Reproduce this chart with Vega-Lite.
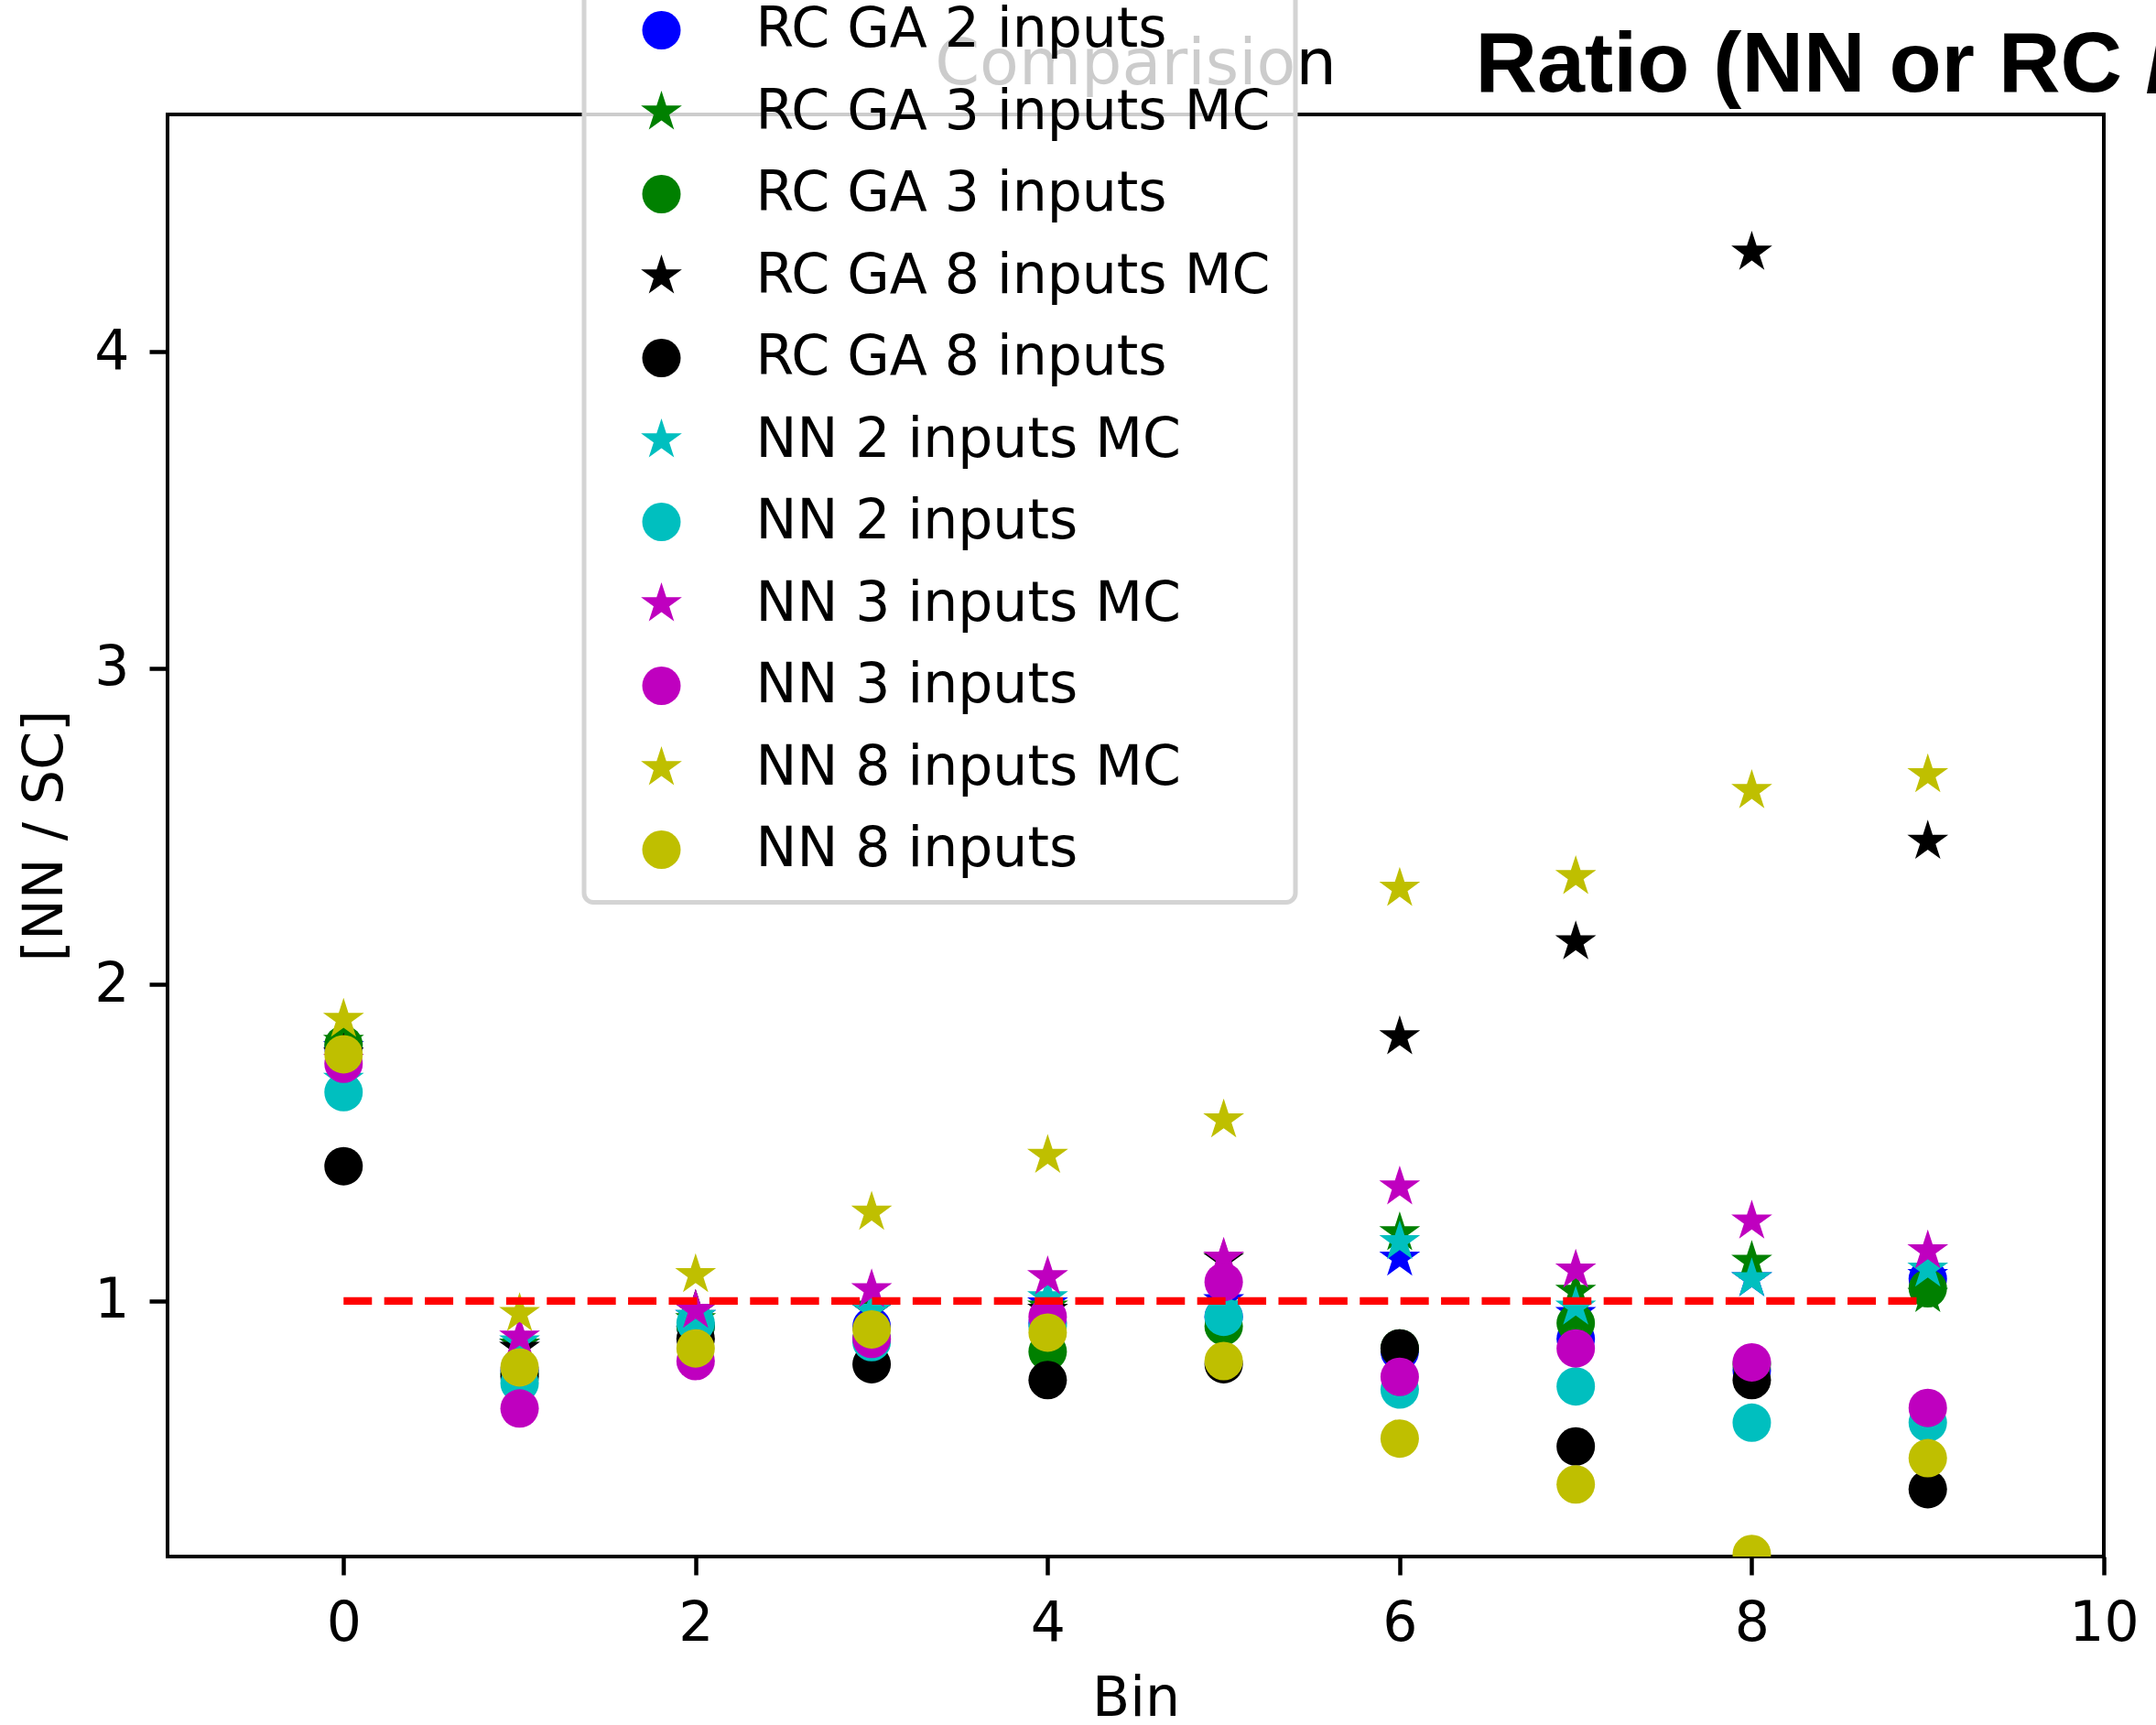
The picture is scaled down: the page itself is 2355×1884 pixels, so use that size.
{
  "$schema": "https://vega.github.io/schema/vega-lite/v6.json",
  "width": 2115,
  "height": 1575,
  "autosize": {"type": "none"},
  "padding": {"left": 183, "top": 125, "right": 57, "bottom": 184},
  "background": "white",
  "title": {"text": "Comparision", "font": "DejaVu Sans", "fontSize": 70, "fontWeight": "normal", "color": "black", "anchor": "middle", "frame": "group", "baseline": "alphabetic", "offset": -278, "zindex": 0},
  "config": {
    "view": {"stroke": "black", "strokeWidth": 4},
    "axis": {"grid": false, "domain": false, "tickColor": "black", "tickWidth": 4.5, "tickSize": 20, "labelFont": "DejaVu Sans", "labelFontSize": 60, "labelColor": "black", "titleFont": "DejaVu Sans", "titleFontSize": 60, "titleFontWeight": "normal", "titleColor": "black", "labelFlush": false, "labelOverlap": false},
    "legend": {"strokeColor": "#d4d4d4", "strokeWidth": 5, "fillColor": "rgba(255,255,255,0.8)", "cornerRadius": 10, "padding": 27, "labelFont": "DejaVu Sans", "labelFontSize": 60, "labelColor": "black", "labelLimit": 0, "symbolSize": 1764, "symbolStrokeWidth": 0, "symbolOpacity": 1, "rowPadding": 29.5, "labelOffset": 73, "symbolOffset": 27.5}
  },
  "datasets": {
    "points": [
      {"bin": 0, "ratio": 1.80, "series": "RC GA 2 inputs MC"},
      {"bin": 1, "ratio": 0.86, "series": "RC GA 2 inputs MC"},
      {"bin": 2, "ratio": 0.95, "series": "RC GA 2 inputs MC"},
      {"bin": 3, "ratio": 0.97, "series": "RC GA 2 inputs MC"},
      {"bin": 4, "ratio": 0.99, "series": "RC GA 2 inputs MC"},
      {"bin": 5, "ratio": 1.00, "series": "RC GA 2 inputs MC"},
      {"bin": 6, "ratio": 1.135, "series": "RC GA 2 inputs MC"},
      {"bin": 7, "ratio": 0.96, "series": "RC GA 2 inputs MC"},
      {"bin": 8, "ratio": 1.07, "series": "RC GA 2 inputs MC"},
      {"bin": 9, "ratio": 1.08, "series": "RC GA 2 inputs MC"},
      {"bin": 0, "ratio": 1.80, "series": "RC GA 2 inputs"},
      {"bin": 1, "ratio": 0.78, "series": "RC GA 2 inputs"},
      {"bin": 2, "ratio": 0.92, "series": "RC GA 2 inputs"},
      {"bin": 3, "ratio": 0.92, "series": "RC GA 2 inputs"},
      {"bin": 4, "ratio": 0.93, "series": "RC GA 2 inputs"},
      {"bin": 5, "ratio": 0.95, "series": "RC GA 2 inputs"},
      {"bin": 6, "ratio": 0.84, "series": "RC GA 2 inputs"},
      {"bin": 7, "ratio": 0.88, "series": "RC GA 2 inputs"},
      {"bin": 8, "ratio": 0.78, "series": "RC GA 2 inputs"},
      {"bin": 9, "ratio": 1.07, "series": "RC GA 2 inputs"},
      {"bin": 0, "ratio": 1.82, "series": "RC GA 3 inputs MC"},
      {"bin": 1, "ratio": 0.86, "series": "RC GA 3 inputs MC"},
      {"bin": 2, "ratio": 0.94, "series": "RC GA 3 inputs MC"},
      {"bin": 3, "ratio": 0.98, "series": "RC GA 3 inputs MC"},
      {"bin": 4, "ratio": 0.98, "series": "RC GA 3 inputs MC"},
      {"bin": 5, "ratio": 0.98, "series": "RC GA 3 inputs MC"},
      {"bin": 6, "ratio": 1.215, "series": "RC GA 3 inputs MC"},
      {"bin": 7, "ratio": 1.03, "series": "RC GA 3 inputs MC"},
      {"bin": 8, "ratio": 1.125, "series": "RC GA 3 inputs MC"},
      {"bin": 9, "ratio": 1.02, "series": "RC GA 3 inputs MC"},
      {"bin": 0, "ratio": 1.81, "series": "RC GA 3 inputs"},
      {"bin": 1, "ratio": 0.77, "series": "RC GA 3 inputs"},
      {"bin": 2, "ratio": 0.92, "series": "RC GA 3 inputs"},
      {"bin": 3, "ratio": 0.88, "series": "RC GA 3 inputs"},
      {"bin": 4, "ratio": 0.84, "series": "RC GA 3 inputs"},
      {"bin": 5, "ratio": 0.92, "series": "RC GA 3 inputs"},
      {"bin": 6, "ratio": 0.85, "series": "RC GA 3 inputs"},
      {"bin": 7, "ratio": 0.93, "series": "RC GA 3 inputs"},
      {"bin": 8, "ratio": 0.80, "series": "RC GA 3 inputs"},
      {"bin": 9, "ratio": 1.04, "series": "RC GA 3 inputs"},
      {"bin": 0, "ratio": 1.78, "series": "RC GA 8 inputs MC"},
      {"bin": 1, "ratio": 0.85, "series": "RC GA 8 inputs MC"},
      {"bin": 2, "ratio": 0.97, "series": "RC GA 8 inputs MC"},
      {"bin": 3, "ratio": 0.97, "series": "RC GA 8 inputs MC"},
      {"bin": 4, "ratio": 0.97, "series": "RC GA 8 inputs MC"},
      {"bin": 5, "ratio": 1.13, "series": "RC GA 8 inputs MC"},
      {"bin": 6, "ratio": 1.835, "series": "RC GA 8 inputs MC"},
      {"bin": 7, "ratio": 2.135, "series": "RC GA 8 inputs MC"},
      {"bin": 8, "ratio": 4.315, "series": "RC GA 8 inputs MC"},
      {"bin": 9, "ratio": 2.453, "series": "RC GA 8 inputs MC"},
      {"bin": 0, "ratio": 1.426, "series": "RC GA 8 inputs"},
      {"bin": 1, "ratio": 0.76, "series": "RC GA 8 inputs"},
      {"bin": 2, "ratio": 0.88, "series": "RC GA 8 inputs"},
      {"bin": 3, "ratio": 0.80, "series": "RC GA 8 inputs"},
      {"bin": 4, "ratio": 0.75, "series": "RC GA 8 inputs"},
      {"bin": 5, "ratio": 0.80, "series": "RC GA 8 inputs"},
      {"bin": 6, "ratio": 0.85, "series": "RC GA 8 inputs"},
      {"bin": 7, "ratio": 0.54, "series": "RC GA 8 inputs"},
      {"bin": 8, "ratio": 0.75, "series": "RC GA 8 inputs"},
      {"bin": 9, "ratio": 0.405, "series": "RC GA 8 inputs"},
      {"bin": 0, "ratio": 1.70, "series": "NN 2 inputs MC"},
      {"bin": 1, "ratio": 0.87, "series": "NN 2 inputs MC"},
      {"bin": 2, "ratio": 0.95, "series": "NN 2 inputs MC"},
      {"bin": 3, "ratio": 0.97, "series": "NN 2 inputs MC"},
      {"bin": 4, "ratio": 1.01, "series": "NN 2 inputs MC"},
      {"bin": 5, "ratio": 0.98, "series": "NN 2 inputs MC"},
      {"bin": 6, "ratio": 1.187, "series": "NN 2 inputs MC"},
      {"bin": 7, "ratio": 0.98, "series": "NN 2 inputs MC"},
      {"bin": 8, "ratio": 1.07, "series": "NN 2 inputs MC"},
      {"bin": 9, "ratio": 1.10, "series": "NN 2 inputs MC"},
      {"bin": 0, "ratio": 1.66, "series": "NN 2 inputs"},
      {"bin": 1, "ratio": 0.74, "series": "NN 2 inputs"},
      {"bin": 2, "ratio": 0.93, "series": "NN 2 inputs"},
      {"bin": 3, "ratio": 0.87, "series": "NN 2 inputs"},
      {"bin": 4, "ratio": 0.92, "series": "NN 2 inputs"},
      {"bin": 5, "ratio": 0.95, "series": "NN 2 inputs"},
      {"bin": 6, "ratio": 0.72, "series": "NN 2 inputs"},
      {"bin": 7, "ratio": 0.73, "series": "NN 2 inputs"},
      {"bin": 8, "ratio": 0.615, "series": "NN 2 inputs"},
      {"bin": 9, "ratio": 0.615, "series": "NN 2 inputs"},
      {"bin": 0, "ratio": 1.76, "series": "NN 3 inputs MC"},
      {"bin": 1, "ratio": 0.885, "series": "NN 3 inputs MC"},
      {"bin": 2, "ratio": 0.97, "series": "NN 3 inputs MC"},
      {"bin": 3, "ratio": 1.035, "series": "NN 3 inputs MC"},
      {"bin": 4, "ratio": 1.076, "series": "NN 3 inputs MC"},
      {"bin": 5, "ratio": 1.135, "series": "NN 3 inputs MC"},
      {"bin": 6, "ratio": 1.36, "series": "NN 3 inputs MC"},
      {"bin": 7, "ratio": 1.097, "series": "NN 3 inputs MC"},
      {"bin": 8, "ratio": 1.252, "series": "NN 3 inputs MC"},
      {"bin": 9, "ratio": 1.158, "series": "NN 3 inputs MC"},
      {"bin": 0, "ratio": 1.75, "series": "NN 3 inputs"},
      {"bin": 1, "ratio": 0.66, "series": "NN 3 inputs"},
      {"bin": 2, "ratio": 0.81, "series": "NN 3 inputs"},
      {"bin": 3, "ratio": 0.88, "series": "NN 3 inputs"},
      {"bin": 4, "ratio": 0.95, "series": "NN 3 inputs"},
      {"bin": 5, "ratio": 1.06, "series": "NN 3 inputs"},
      {"bin": 6, "ratio": 0.76, "series": "NN 3 inputs"},
      {"bin": 7, "ratio": 0.85, "series": "NN 3 inputs"},
      {"bin": 8, "ratio": 0.806, "series": "NN 3 inputs"},
      {"bin": 9, "ratio": 0.662, "series": "NN 3 inputs"},
      {"bin": 0, "ratio": 1.89, "series": "NN 8 inputs MC"},
      {"bin": 1, "ratio": 0.96, "series": "NN 8 inputs MC"},
      {"bin": 2, "ratio": 1.083, "series": "NN 8 inputs MC"},
      {"bin": 3, "ratio": 1.28, "series": "NN 8 inputs MC"},
      {"bin": 4, "ratio": 1.46, "series": "NN 8 inputs MC"},
      {"bin": 5, "ratio": 1.572, "series": "NN 8 inputs MC"},
      {"bin": 6, "ratio": 2.304, "series": "NN 8 inputs MC"},
      {"bin": 7, "ratio": 2.341, "series": "NN 8 inputs MC"},
      {"bin": 8, "ratio": 2.613, "series": "NN 8 inputs MC"},
      {"bin": 9, "ratio": 2.663, "series": "NN 8 inputs MC"},
      {"bin": 0, "ratio": 1.78, "series": "NN 8 inputs"},
      {"bin": 1, "ratio": 0.79, "series": "NN 8 inputs"},
      {"bin": 2, "ratio": 0.85, "series": "NN 8 inputs"},
      {"bin": 3, "ratio": 0.91, "series": "NN 8 inputs"},
      {"bin": 4, "ratio": 0.90, "series": "NN 8 inputs"},
      {"bin": 5, "ratio": 0.81, "series": "NN 8 inputs"},
      {"bin": 6, "ratio": 0.565, "series": "NN 8 inputs"},
      {"bin": 7, "ratio": 0.42, "series": "NN 8 inputs"},
      {"bin": 8, "ratio": 0.20, "series": "NN 8 inputs"},
      {"bin": 9, "ratio": 0.503, "series": "NN 8 inputs"}
    ],
    "refline": [
      {"bin": 0, "ratio": 1},
      {"bin": 9, "ratio": 1}
    ],
    "overlay": [
      {"label": "Ratio (NN or RC /"}
    ]
  },
  "layer": [
    {
      "data": {"name": "points"},
      "mark": {"type": "point", "filled": true, "opacity": 1, "size": 1764, "strokeWidth": 0, "clip": true},
      "encoding": {
        "x": {"field": "bin", "type": "quantitative", "scale": {"domain": [-1, 10], "nice": false, "zero": false}, "axis": {"values": [0, 2, 4, 6, 8, 10], "format": "d", "labelPadding": 24, "titlePadding": 23}, "title": "Bin"},
        "y": {"field": "ratio", "type": "quantitative", "scale": {"domain": [0.192, 4.751], "nice": false, "zero": false}, "axis": {"values": [1, 2, 3, 4], "format": "d", "labelPadding": 22, "titlePadding": 22}, "title": "[NN / SC]"},
        "color": {
          "field": "series", "type": "nominal",
          "scale": {
            "domain": ["RC GA 2 inputs MC", "RC GA 2 inputs", "RC GA 3 inputs MC", "RC GA 3 inputs", "RC GA 8 inputs MC", "RC GA 8 inputs", "NN 2 inputs MC", "NN 2 inputs", "NN 3 inputs MC", "NN 3 inputs", "NN 8 inputs MC", "NN 8 inputs"],
            "range": ["#0000ff", "#0000ff", "#008000", "#008000", "#000000", "#000000", "#00bfbf", "#00bfbf", "#bf00bf", "#bf00bf", "#bfbf00", "#bfbf00"]
          },
          "legend": {"title": null, "orient": "none", "legendX": 455, "legendY": -238.5, "zindex": 1}
        },
        "shape": {
          "field": "series", "type": "nominal",
          "scale": {
            "domain": ["RC GA 2 inputs MC", "RC GA 2 inputs", "RC GA 3 inputs MC", "RC GA 3 inputs", "RC GA 8 inputs MC", "RC GA 8 inputs", "NN 2 inputs MC", "NN 2 inputs", "NN 3 inputs MC", "NN 3 inputs", "NN 8 inputs MC", "NN 8 inputs"],
            "range": [
              "M0,-1.12L0.2514,-0.346L1.0652,-0.346L0.4069,0.1322L0.6583,0.9061L0,0.4278L-0.6583,0.9061L-0.4069,0.1322L-1.0652,-0.346L-0.2514,-0.346Z", "circle",
              "M0,-1.12L0.2514,-0.346L1.0652,-0.346L0.4069,0.1322L0.6583,0.9061L0,0.4278L-0.6583,0.9061L-0.4069,0.1322L-1.0652,-0.346L-0.2514,-0.346Z", "circle",
              "M0,-1.12L0.2514,-0.346L1.0652,-0.346L0.4069,0.1322L0.6583,0.9061L0,0.4278L-0.6583,0.9061L-0.4069,0.1322L-1.0652,-0.346L-0.2514,-0.346Z", "circle",
              "M0,-1.12L0.2514,-0.346L1.0652,-0.346L0.4069,0.1322L0.6583,0.9061L0,0.4278L-0.6583,0.9061L-0.4069,0.1322L-1.0652,-0.346L-0.2514,-0.346Z", "circle",
              "M0,-1.12L0.2514,-0.346L1.0652,-0.346L0.4069,0.1322L0.6583,0.9061L0,0.4278L-0.6583,0.9061L-0.4069,0.1322L-1.0652,-0.346L-0.2514,-0.346Z", "circle",
              "M0,-1.12L0.2514,-0.346L1.0652,-0.346L0.4069,0.1322L0.6583,0.9061L0,0.4278L-0.6583,0.9061L-0.4069,0.1322L-1.0652,-0.346L-0.2514,-0.346Z", "circle"
            ]
          },
          "legend": {"title": null, "orient": "none", "legendX": 455, "legendY": -238.5, "zindex": 1}
        }
      }
    },
    {
      "data": {"name": "refline"},
      "mark": {"type": "line", "color": "#ff0000", "strokeWidth": 8.4, "strokeDash": [31, 13.4], "strokeCap": "butt"},
      "encoding": {
        "x": {"field": "bin", "type": "quantitative", "title": "Bin"},
        "y": {"field": "ratio", "type": "quantitative", "title": "[NN / SC]"}
      }
    },
    {
      "data": {"name": "overlay"},
      "mark": {"type": "text", "font": "Liberation Sans", "fontWeight": "bold", "fontSize": 93.5, "align": "left", "baseline": "alphabetic", "color": "black"},
      "encoding": {
        "x": {"datum": 6.43, "type": "quantitative"},
        "y": {"datum": 4.823, "type": "quantitative"},
        "text": {"field": "label", "type": "nominal"}
      }
    }
  ]
}
